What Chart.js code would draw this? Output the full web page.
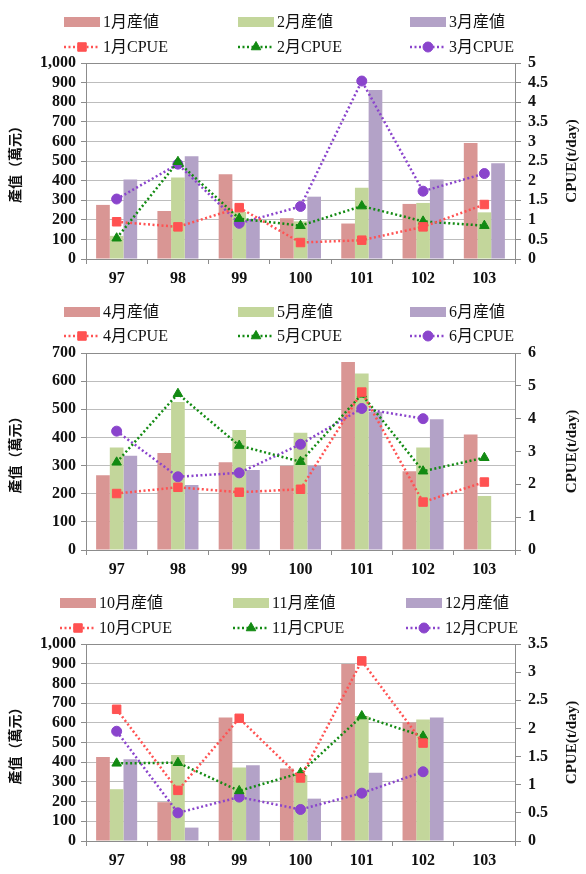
<!DOCTYPE html>
<html>
<head>
<meta charset="utf-8">
<script src="https://cdn.jsdelivr.net/npm/chart.js@4.4.1/dist/chart.umd.min.js"></script>
<style>
  body { margin: 0; background: #fff; }
  .panel { position: absolute; left: 0; width: 586px; }
  canvas { display: block; }
</style>
</head>
<body>
<div class="panel" style="top:0"><canvas id="chart1" width="586" height="290"></canvas></div>
<div class="panel" style="top:290px"><canvas id="chart2" width="586" height="300"></canvas></div>
<div class="panel" style="top:590px"><canvas id="chart3" width="586" height="284"></canvas></div>
<script>
// Данные: годы и значения по месяцам (產值 — столбцы, CPUE — линии)
const categories = ["97", "98", "99", "100", "101", "102", "103"];

const janValue = [276, 245, 432, 208, 181, 281, 592];
const febValue = [118, 416, 240, 192, 364, 286, 238];
const marValue = [406, 524, 198, 318, 862, 406, 488];
const janCpue = [0.95, 0.82, 1.31, 0.42, 0.48, 0.82, 1.39];
const febCpue = [0.53, 2.48, 1.03, 0.85, 1.35, 0.96, 0.85];
const marCpue = [1.53, 2.42, 0.91, 1.34, 4.54, 1.73, 2.18];

const aprValue = [266, 345, 312, 299, 668, 280, 410];
const mayValue = [364, 526, 426, 417, 627, 364, 192];
const junValue = [335, 231, 284, 299, 491, 465, null];
const aprCpue = [1.72, 1.91, 1.76, 1.85, 4.81, 1.46, 2.07];
const mayCpue = [2.67, 4.76, 3.18, 2.69, 4.74, 2.4, 2.81];
const junCpue = [3.62, 2.23, 2.35, 3.22, 4.31, 4.0, null];

const octValue = [427, 197, 627, 368, 898, 602, null];
const novValue = [263, 436, 373, 334, 634, 617, null];
const decValue = [415, 68, 385, 215, 346, 627, null];
const octCpue = [2.34, 0.9, 2.18, 1.12, 3.2, 1.74, null];
const novCpue = [1.38, 1.39, 0.89, 1.21, 2.22, 1.86, null];
const decCpue = [1.95, 0.5, 0.78, 0.56, 0.85, 1.23, null];

const serif = "'Liberation Serif', 'Noto Sans CJK JP', serif";
const barColors = ["#d99694", "#c3d69b", "#b3a2c7"];
const lineColors = ["#ff5252", "#128a12", "#8a44cc"];
const pointStyles = ["rect", "triangle", "circle"];
const pointSizes = [6, 5.5, 5];

// Легенда в три колонки, рамка сверху и подписи осей
const panelDecor = {
  id: "panelDecor",
  afterDraw(chart, args, opts) {
    const ctx = chart.ctx;
    const a = chart.chartArea;
    ctx.save();
    ctx.strokeStyle = "#8c8c8c";
    ctx.lineWidth = 1;
    ctx.beginPath();
    ctx.moveTo(a.left, a.top + 0.5);
    ctx.lineTo(a.right, a.top + 0.5);
    ctx.stroke();

    chart.data.datasets.forEach((ds, i) => {
      const x = opts.cols[i % 3];
      const isLine = ds.type === "line";
      const y = opts.rows[isLine ? 1 : 0];
      if (isLine) {
        ctx.strokeStyle = ds.borderColor;
        ctx.lineWidth = ds.borderWidth;
        ctx.setLineDash(ds.borderDash);
        ctx.beginPath();
        ctx.moveTo(x, y);
        ctx.lineTo(x + 36, y);
        ctx.stroke();
        ctx.setLineDash([]);
        ctx.fillStyle = ds.pointBackgroundColor;
        ctx.strokeStyle = ds.pointBackgroundColor;
        ctx.lineWidth = 1;
        Chart.helpers.drawPoint(ctx, { pointStyle: ds.pointStyle, radius: ds.pointRadius, borderWidth: 1, rotation: 0 }, x + 18, y);
      } else {
        ctx.fillStyle = ds.backgroundColor;
        ctx.fillRect(x, y - 5, 36, 10);
      }
      ctx.fillStyle = "#111";
      ctx.font = "16px " + serif;
      ctx.textBaseline = "middle";
      ctx.textAlign = "left";
      ctx.fillText(ds.label, x + 39, y + 1);
    });

    const midY = (a.top + a.bottom) / 2;
    ctx.fillStyle = "#111";
    ctx.textAlign = "center";
    ctx.textBaseline = "middle";
    ctx.save();
    ctx.translate(15, midY);
    ctx.rotate(-Math.PI / 2);
    ctx.font = "bold 14px 'Noto Sans CJK TC', sans-serif";
    ctx.fillText("產值（萬元）", 0, 0);
    ctx.restore();
    ctx.save();
    ctx.translate(572, midY);
    ctx.rotate(-Math.PI / 2);
    ctx.font = "bold 15px " + serif;
    ctx.fillText("CPUE(t/day)", 0, 0);
    ctx.restore();
    ctx.restore();
  },
};

function createPanel(canvasId, p) {
  const datasets = [];
  p.values.forEach((vals, i) => {
    datasets.push({
      type: "bar",
      label: p.months[i] + "月産値",
      data: vals,
      backgroundColor: barColors[i],
      borderWidth: 0,
      barPercentage: 1,
      categoryPercentage: 0.67,
      yAxisID: "y",
      order: 2,
    });
  });
  p.cpue.forEach((vals, i) => {
    datasets.push({
      type: "line",
      label: p.months[i] + "月CPUE",
      data: vals,
      borderColor: lineColors[i],
      borderWidth: 2.5,
      borderDash: [2, 2.5],
      pointStyle: pointStyles[i],
      pointRadius: pointSizes[i],
      pointBackgroundColor: lineColors[i],
      pointBorderColor: lineColors[i],
      pointBorderWidth: 1,
      tension: 0,
      yAxisID: "y1",
      order: 1,
    });
  });

  const tickFont = { family: serif, weight: "bold", size: 16 };

  return new Chart(document.getElementById(canvasId), {
    data: { labels: categories, datasets: datasets },
    options: {
      responsive: false,
      animation: false,
      layout: { padding: { top: p.top, left: 0, right: 0, bottom: 0 } },
      plugins: {
        legend: { display: false },
        tooltip: { enabled: false },
        panelDecor: { cols: p.cols, rows: p.rows },
      },
      scales: {
        x: {
          grid: { offset: true, drawOnChartArea: false, tickLength: 5, color: "#8c8c8c" },
          border: { color: "#8c8c8c" },
          ticks: { font: tickFont, color: "#111", padding: 5, autoSkip: false, maxRotation: 0 },
          afterFit: (s) => { s.height = p.xHeight; },
        },
        y: {
          position: "left",
          min: 0,
          max: p.leftMax,
          ticks: {
            stepSize: p.leftStep, font: tickFont, color: "#111", padding: 5, autoSkip: false,
            callback: (v) => v.toLocaleString("en-US"),
          },
          grid: { color: "#bdbdbd", tickColor: "#8c8c8c", tickLength: 5 },
          border: { color: "#8c8c8c" },
          afterFit: (s) => { s.width = 86; },
        },
        y1: {
          position: "right",
          min: 0,
          max: p.rightMax,
          ticks: {
            stepSize: p.rightStep, font: tickFont, color: "#111", padding: 7, autoSkip: false,
            callback: (v) => String(Math.round(v * 10) / 10),
          },
          grid: { drawOnChartArea: false, color: "#8c8c8c", tickLength: 6 },
          border: { color: "#8c8c8c" },
          afterFit: (s) => { s.width = 71; },
        },
      },
    },
    plugins: [panelDecor],
  });
}

createPanel("chart1", {
  months: [1, 2, 3],
  values: [janValue, febValue, marValue],
  cpue: [janCpue, febCpue, marCpue],
  leftMax: 1000, leftStep: 100, rightMax: 5, rightStep: 0.5,
  top: 63, xHeight: 31,
  cols: [64, 238, 410], rows: [22, 47],
});

createPanel("chart2", {
  months: [4, 5, 6],
  values: [aprValue, mayValue, junValue],
  cpue: [aprCpue, mayCpue, junCpue],
  leftMax: 700, leftStep: 100, rightMax: 6, rightStep: 1,
  top: 63, xHeight: 40,
  cols: [64, 238, 410], rows: [22, 46],
});

createPanel("chart3", {
  months: [10, 11, 12],
  values: [octValue, novValue, decValue],
  cpue: [octCpue, novCpue, decCpue],
  leftMax: 1000, leftStep: 100, rightMax: 3.5, rightStep: 0.5,
  top: 54, xHeight: 33,
  cols: [60, 233, 406], rows: [13, 38],
});
</script>
</body>
</html>
